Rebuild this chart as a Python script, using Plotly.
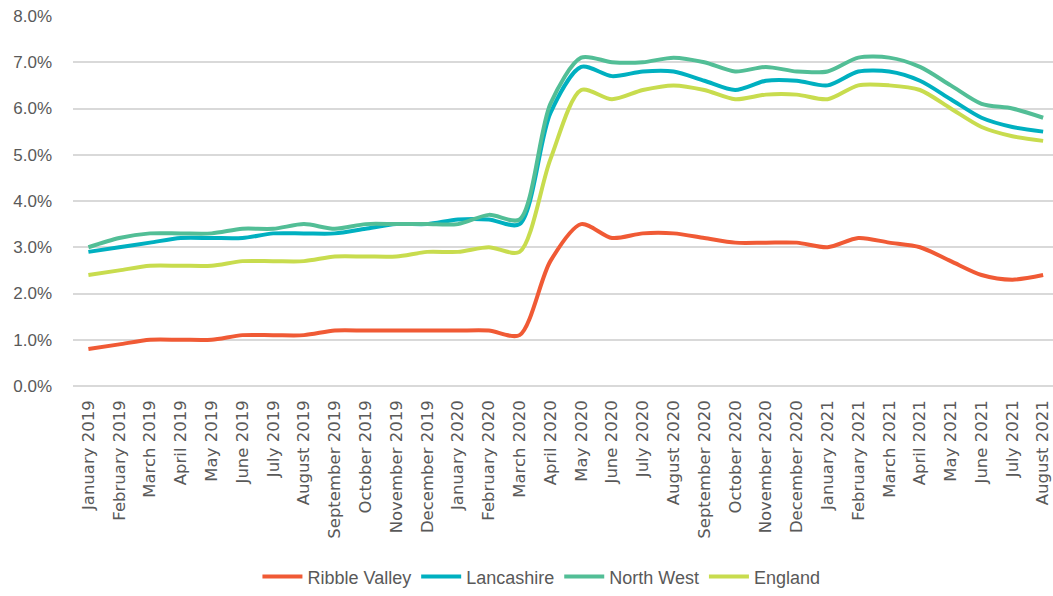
import plotly.graph_objects as go

months = [
    "January 2019", "February 2019", "March 2019", "April 2019", "May 2019",
    "June 2019", "July 2019", "August 2019", "September 2019", "October 2019",
    "November 2019", "December 2019", "January 2020", "February 2020",
    "March 2020", "April 2020", "May 2020", "June 2020", "July 2020",
    "August 2020", "September 2020", "October 2020", "November 2020",
    "December 2020", "January 2021", "February 2021", "March 2021",
    "April 2021", "May 2021", "June 2021", "July 2021", "August 2021",
]

# Claimant rate (%) by month
ribble_valley = [0.8, 0.9, 1.0, 1.0, 1.0, 1.1, 1.1, 1.1, 1.2, 1.2, 1.2, 1.2, 1.2, 1.2,
                 1.1, 2.7, 3.5, 3.2, 3.3, 3.3, 3.2, 3.1, 3.1, 3.1, 3.0, 3.2, 3.1,
                 3.0, 2.7, 2.4, 2.3, 2.4]
lancashire = [2.9, 3.0, 3.1, 3.2, 3.2, 3.2, 3.3, 3.3, 3.3, 3.4, 3.5, 3.5, 3.6, 3.6,
              3.5, 5.9, 6.9, 6.7, 6.8, 6.8, 6.6, 6.4, 6.6, 6.6, 6.5, 6.8, 6.8,
              6.6, 6.2, 5.8, 5.6, 5.5]
north_west = [3.0, 3.2, 3.3, 3.3, 3.3, 3.4, 3.4, 3.5, 3.4, 3.5, 3.5, 3.5, 3.5, 3.7,
              3.6, 6.1, 7.1, 7.0, 7.0, 7.1, 7.0, 6.8, 6.9, 6.8, 6.8, 7.1, 7.1,
              6.9, 6.5, 6.1, 6.0, 5.8]
england = [2.4, 2.5, 2.6, 2.6, 2.6, 2.7, 2.7, 2.7, 2.8, 2.8, 2.8, 2.9, 2.9, 3.0,
           2.9, 4.9, 6.4, 6.2, 6.4, 6.5, 6.4, 6.2, 6.3, 6.3, 6.2, 6.5, 6.5,
           6.4, 6.0, 5.6, 5.4, 5.3]

series = [
    ("Ribble Valley", ribble_valley, "#F05A35"),
    ("Lancashire", lancashire, "#00B0C0"),
    ("North West", north_west, "#52BE96"),
    ("England", england, "#C8DC4E"),
]

fig = go.Figure()
for name, values, color in series:
    fig.add_trace(go.Scatter(
        x=list(range(len(months))),
        y=[v / 100 for v in values],
        name=name,
        mode="lines",
        line=dict(color=color, width=4, shape="spline", smoothing=0.8),
    ))

fig.update_layout(
    width=1053,
    height=596,
    margin=dict(l=73, r=0, t=16, b=206),
    paper_bgcolor="white",
    plot_bgcolor="white",
    font=dict(family="DejaVu Sans", color="#595959"),
    legend=dict(
        orientation="h",
        x=0.478, xanchor="center",
        y=-0.516, yanchor="middle",
        font=dict(family="Liberation Sans", size=18, color="#595959"),
        itemwidth=40,
        tracegroupgap=0,
    ),
    showlegend=True,
)

fig.update_xaxes(
    range=[-0.5, 31.32],
    tickmode="array",
    tickvals=list(range(len(months))),
    ticktext=months,
    tickangle=-90,
    tickfont=dict(family="DejaVu Sans", size=16.5, color="#595959"),
    showgrid=False,
    showline=False,
    zeroline=False,
    ticks="",
    ticklabelstandoff=10,
)

fig.update_yaxes(
    range=[0, 0.08],
    dtick=0.01,
    tickformat=".1%",
    tickfont=dict(family="Liberation Sans", size=17, color="#595959"),
    showgrid=True,
    gridcolor="#D9D9D9",
    gridwidth=2,
    zeroline=True,
    zerolinecolor="#D9D9D9",
    zerolinewidth=2,
    showline=False,
    ticks="",
    ticklabelstandoff=20,
)

fig.write_html("out.html")
